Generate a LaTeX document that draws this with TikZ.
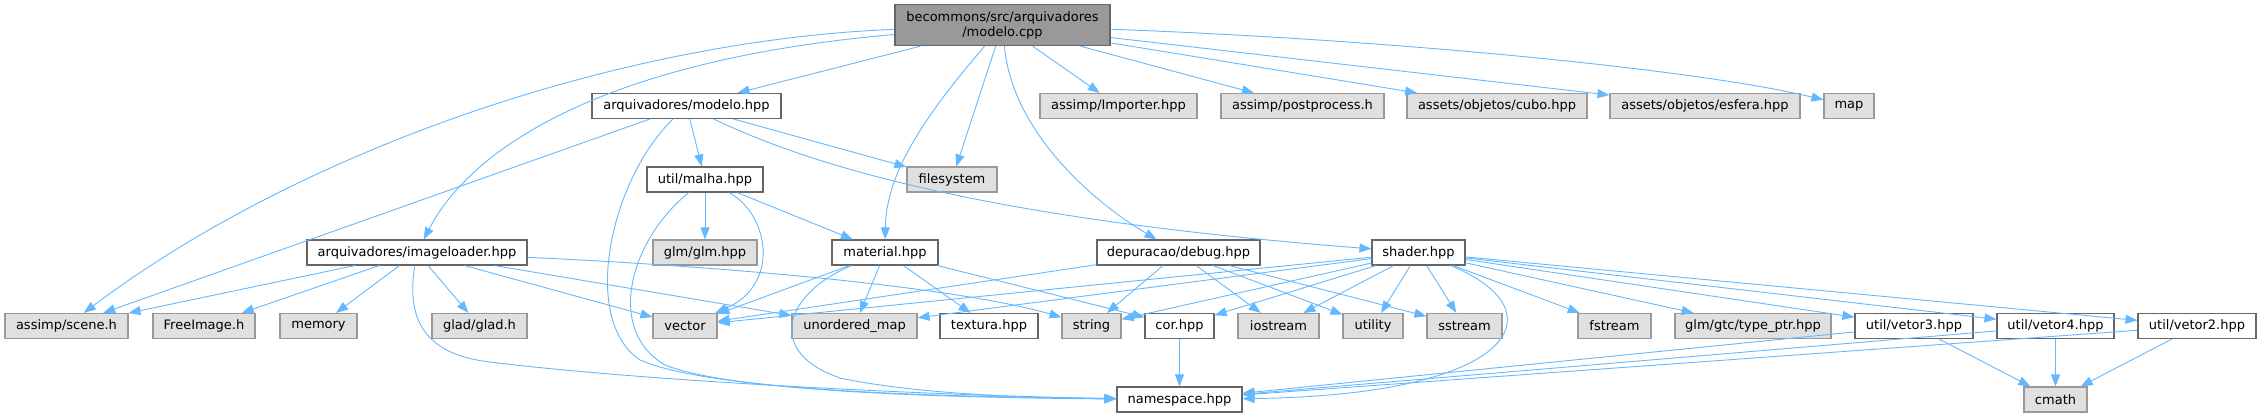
\documentclass[tikz,border=0pt]{standalone}
\usepackage{fontspec}
\setmainfont{DejaVu Sans}
\usetikzlibrary{arrows.meta}

\definecolor{edgeblue}{HTML}{63B8FF}
\definecolor{rootgray}{HTML}{999999}
\definecolor{boxdark}{HTML}{666666}
\definecolor{sysgray}{HTML}{E0E0E0}
\definecolor{sysborder}{HTML}{999999}

\begin{document}
\begin{tikzpicture}[x=1pt, y=-1pt,
        box/.style={rectangle, draw, inner sep=0pt, minimum height=25pt, line width=1.1pt, font=\fontsize{13}{15}\selectfont},
        srcbox/.style={box, fill=rootgray, draw=boxdark, align=center, minimum height=41pt},
        hdrbox/.style={box, fill=white, draw=boxdark},
        sysbox/.style={box, fill=sysgray, draw=sysborder},
        inc/.style={draw=edgeblue, line width=0.9pt, -{Triangle[length=12pt, width=9pt]}}
    ]
        \useasboundingbox (0,0) rectangle (2261,417);

        % -- source file --
        \node[srcbox, minimum width=215pt] (root) at (1002.5,25.2) {becommons/src/arquivadores\\/modelo.cpp};

        % -- first level --
        \node[hdrbox, minimum width=189pt] (mhpp)     at (686.5,106)  {arquivadores/modelo.hpp};
        \node[sysbox, minimum width=157pt] (importer) at (1118.5,106) {assimp/Importer.hpp};
        \node[sysbox, minimum width=163pt] (postproc) at (1302.5,106) {assimp/postprocess.h};
        \node[sysbox, minimum width=180pt] (cubo)     at (1497,106)   {assets/objetos/cubo.hpp};
        \node[sysbox, minimum width=190pt] (esfera)   at (1705,106)   {assets/objetos/esfera.hpp};
        \node[sysbox, minimum width=50pt]  (map)      at (1849,106)   {map};

        \node[hdrbox, minimum width=116pt] (malha)   at (705,179.5) {util/malha.hpp};
        \node[sysbox, minimum width=90pt]  (filesys) at (952,179.5) {filesystem};

        \node[hdrbox, minimum width=220pt] (imgl)     at (417,252.5)    {arquivadores/imageloader.hpp};
        \node[sysbox, minimum width=104pt] (glm)      at (705,252.5)    {glm/glm.hpp};
        \node[hdrbox, minimum width=106pt] (material) at (885,252.5)    {material.hpp};
        \node[hdrbox, minimum width=163pt] (debug)    at (1178.5,252.5) {depuracao/debug.hpp};
        \node[hdrbox, minimum width=93pt]  (shader)   at (1418.5,252.5) {shader.hpp};

        % -- leaf row --
        \node[sysbox, minimum width=123pt] (scene)    at (66.5,326)   {assimp/scene.h};
        \node[sysbox, minimum width=102pt] (freeimg)  at (204,326)    {FreeImage.h};
        \node[sysbox, minimum width=77pt]  (memory)   at (318.5,326)  {memory};
        \node[sysbox, minimum width=95pt]  (glad)     at (479.5,326)  {glad/glad.h};
        \node[sysbox, minimum width=64pt]  (vector)   at (685,326)    {vector};
        \node[sysbox, minimum width=125pt] (umap)     at (854.5,326)  {unordered\_map};
        \node[hdrbox, minimum width=98pt]  (textura)  at (989,326)    {textura.hpp};
        \node[sysbox, minimum width=59pt]  (string)   at (1091.5,326) {string};
        \node[hdrbox, minimum width=69pt]  (cor)      at (1179.5,326) {cor.hpp};
        \node[sysbox, minimum width=81pt]  (iostream) at (1278.5,326) {iostream};
        \node[sysbox, minimum width=60pt]  (utility)  at (1373,326)   {utility};
        \node[sysbox, minimum width=75pt]  (sstream)  at (1464.5,326) {sstream};
        \node[sysbox, minimum width=73pt]  (fstream)  at (1614.5,326) {fstream};
        \node[sysbox, minimum width=156pt] (typeptr)  at (1753,326)   {glm/gtc/type\_ptr.hpp};
        \node[hdrbox, minimum width=118pt] (vetor3)   at (1914,326)   {util/vetor3.hpp};
        \node[hdrbox, minimum width=117pt] (vetor4)   at (2055.5,326) {util/vetor4.hpp};
        \node[hdrbox, minimum width=118pt] (vetor2)   at (2197,326)   {util/vetor2.hpp};

        \node[hdrbox, minimum width=125pt] (namesp) at (1179.5,399.5) {namespace.hpp};
        \node[sysbox, minimum width=63pt]  (cmath)  at (2055.5,399.5) {cmath};

        % modelo.cpp
        \draw[inc] (root) .. controls (620,40) and (300,150) .. (scene);
        \draw[inc] (root) .. controls (600,60) and (470,150) .. (imgl);
        \draw[inc] (root) .. controls (930,110) and (886,170) .. (material);
        \draw[inc] (root) .. controls (1012,130) and (1090,200) .. (debug);
        \draw[inc] (root) .. controls (1400,40) and (1700,70) .. (map);
        \foreach \t in {mhpp, filesys, importer, postproc, cubo, esfera}
            \draw[inc] (root) -- (\t);

        % modelo.hpp
        \draw[inc] (mhpp) .. controls (610,180) and (580,320) .. (640,360) .. controls (720,395) and (1000,397) .. (namesp);
        \draw[inc] (mhpp) .. controls (820,170) and (1000,220) .. (shader);
        \foreach \t in {scene, malha, filesys}
            \draw[inc] (mhpp) -- (\t);

        % malha.hpp
        \draw[inc] (malha) .. controls (770,215) and (780,285) .. (vector);
        \draw[inc] (malha) .. controls (630,240) and (605,330) .. (665,365) .. controls (740,395) and (1000,398) .. (namesp);
        \draw[inc] (malha) -- (glm);
        \draw[inc] (malha) -- (material);

        % imageloader.hpp
        \draw[inc] (imgl) .. controls (700,265) and (950,285) .. (string);
        \draw[inc] (imgl) .. controls (405,325) and (430,355) .. (490,362) .. controls (650,382) and (950,396) .. (namesp);
        \foreach \t in {scene, freeimg, memory, glad, vector, umap}
            \draw[inc] (imgl) -- (\t);

        % material.hpp
        \draw[inc] (material) .. controls (790,290) and (760,350) .. (840,378) .. controls (920,395) and (1040,398) .. (namesp);
        \foreach \t in {vector, umap, textura, cor}
            \draw[inc] (material) -- (\t);

        % debug.hpp
        \foreach \t in {vector, string, iostream, utility, sstream}
            \draw[inc] (debug) -- (\t);

        % shader.hpp
        \draw[inc] (shader) .. controls (1560,310) and (1520,395) .. (namesp);
        \foreach \t in {umap, vector, string, cor, iostream, utility, sstream, fstream, typeptr, vetor3, vetor4, vetor2}
            \draw[inc] (shader) -- (\t);

        % leaves
        \draw[inc] (cor) -- (namesp);
        \foreach \s in {vetor3, vetor4, vetor2} {
            \draw[inc] (\s) -- (namesp);
            \draw[inc] (\s) -- (cmath);
        }
    \end{tikzpicture}
\end{document}
